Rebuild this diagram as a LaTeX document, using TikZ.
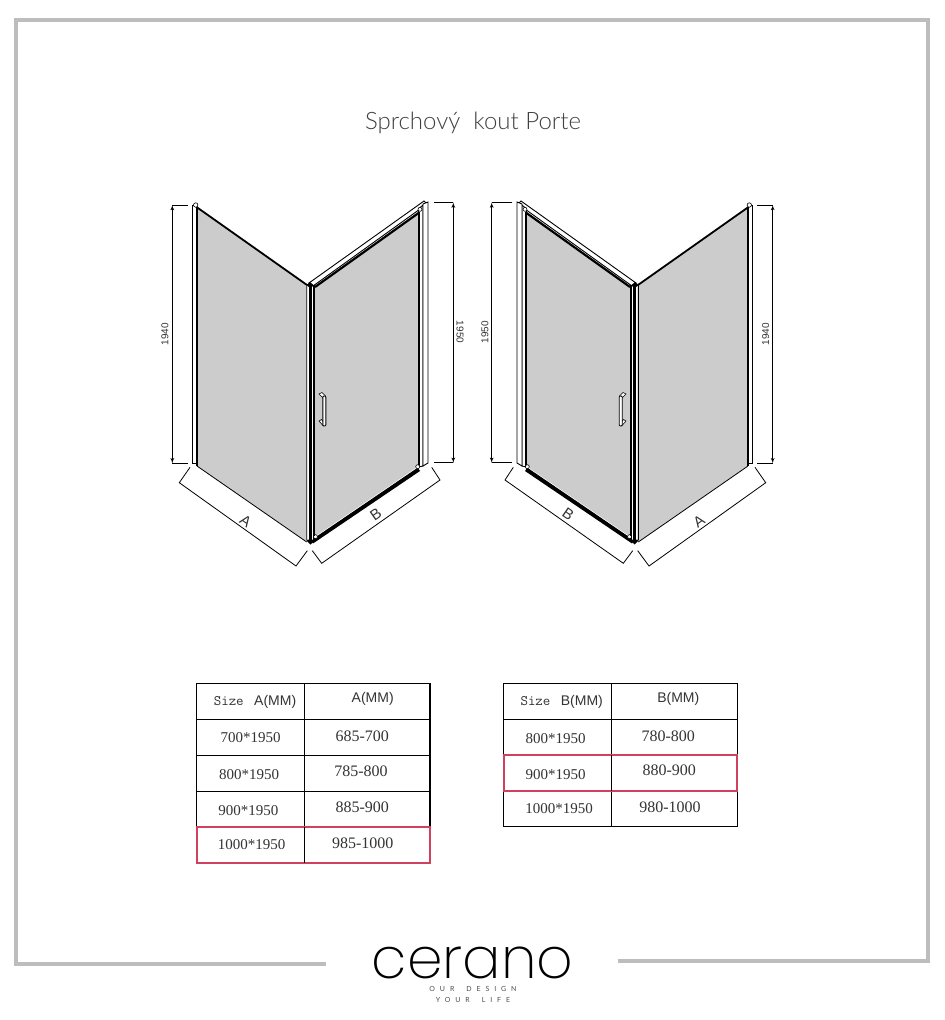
\documentclass[tikz,border=0pt]{standalone}
\usepackage{fontspec}
\usepackage{tikz}
\usetikzlibrary{arrows}
\setmainfont{Liberation Serif}
\setsansfont{Liberation Sans}
\newfontfamily\titlefont{Lato Light}
\newfontfamily\logofont{Poppins ExtraLight}
\newfontfamily\tagfont[LetterSpace=70,WordSpace=1.8]{Lato}
\definecolor{framegray}{HTML}{BDBDBD}
\definecolor{glassgray}{HTML}{CCCCCC}
\definecolor{markred}{HTML}{D2405F}
\definecolor{textgray}{HTML}{333333}
\tikzset{>=latex'}
\tikzset{
	cell/.style={draw=black,line width=1.1pt,anchor=north west,inner sep=0pt,outer sep=0pt,minimum height=35.8pt},
	redrow/.style={draw=markred,line width=1.8pt,anchor=north west,inner sep=0pt,outer sep=0pt,minimum height=35.8pt},
	num/.style={inner sep=0pt,text=textgray,font=\fontsize{15}{16}\selectfont},
	rng/.style={inner sep=0pt,text=textgray,font=\fontsize{16}{16}\selectfont},
	head/.style={inner sep=0pt,text=textgray,font=\sffamily\fontsize{14}{16}\selectfont},
	dimtext/.style={inner sep=0pt,text=textgray,font=\sffamily\fontsize{10}{12}\selectfont},
	sidetext/.style={inner sep=0pt,text=textgray,font=\sffamily\fontsize{15}{16}\selectfont},
	glass/.style={fill=glassgray,draw=none},
	bar/.style={fill=white,draw=black,line width=0.9pt},
	dimline/.style={draw=black,line width=0.8pt},
	pin/.style={fill=white,draw=black,line width=0.6pt},
}
\newcommand{\koutparts}{
	% fixed panel
	\fill[glass] (197,208)--(306.7,285)--(306.7,542)--(197,466)--cycle;
	\draw[bar] (192.7,205)--(196.7,205)--(196.7,463)--(192.7,463)--cycle;
	\draw[line width=2pt] (197.3,207)--(197.3,466);
	\draw[line width=1.8pt] (196.5,207)--(307,285);
	\draw[line width=0.8pt] (197,466)--(306.7,542);
	\draw[pin] (195.7,205) circle (2.2);
	% door
	\fill[glass] (315,286)--(418.3,212)--(418.3,467)--(315,537)--cycle;
	\draw[bar] (309,283)--(424,201)--(427,204)--(313,286)--cycle;
	\draw[line width=2.2pt] (315,287)--(418.5,213);
	\draw[bar] (418.5,209)--(423,205)--(423,466)--(418.5,467)--cycle;
	\draw[bar] (423,204)--(428,202)--(428,463)--(423,466)--cycle;
	\draw[line width=2.2pt] (419,212)--(419,466);
	\draw[line width=3.6pt] (312,542)--(419,469.5);
	\draw[white,line width=0.6pt] (314,537.8)--(418,467);
	\draw[line width=0.8pt] (314,538.8)--(418,468);
	\draw[pin] (420,209.3) circle (2);
	\draw[pin] (417.7,466.7) circle (2);
	\draw[pin] (315.5,536.7) circle (2);
	% post
	\draw[bar] (306.7,285)--(309.5,285)--(309.5,541)--(306.7,540)--cycle;
	\fill (309.3,283.5)--(311.7,283.5)--(311.7,543)--(309.3,543)--cycle;
	\draw[bar] (311.7,285)--(313.3,285)--(313.3,541)--(311.7,541)--cycle;
	\fill (313.3,285)--(315,285)--(315,536)--(313.3,536)--cycle;
	\fill (306.5,285)--(310,282)--(314,285.5)--(310,288)--cycle;
	\fill (307,541)--(310.5,538)--(314,541)--(310.5,544.5)--cycle;
	% handle
	\draw[pin] (319,394)--(322,392.5)--(325.5,396)--(323,398)--cycle;
	\draw[pin] (319,421)--(321.5,419.5)--(325,424)--(323,425.5)--cycle;
	\draw[pin,line width=0.9pt,rounded corners=1pt] (322.8,396)--(325.8,396)--(325.8,426)--(322.8,426)--cycle;
	% dimensions
	\coordinate (hAtop) at (172.3,205);
	\coordinate (hAbot) at (172.3,463.3);
	\coordinate (hAtopr) at (188,205);
	\coordinate (hAbotr) at (188,463.3);
	\coordinate (hBtop) at (453.3,202.5);
	\coordinate (hBbot) at (453.3,462.8);
	\coordinate (hBtopl) at (433.5,202.5);
	\coordinate (hBbotl) at (433.5,462.8);
	\draw[dimline,<->] (hAtop)--(hAbot);
	\draw[dimline] (hAtop)--(hAtopr);
	\draw[dimline] (hAbot)--(hAbotr);
	\draw[dimline,<->] (hBtop)--(hBbot);
	\draw[dimline] (hBtop)--(hBtopl);
	\draw[dimline] (hBbot)--(hBbotl);
	\coordinate (wAa) at (190,467.3);
	\coordinate (wAb) at (179.3,482.7);
	\coordinate (wAc) at (296,566);
	\coordinate (wAd) at (307.3,550.7);
	\coordinate (wBa) at (312.3,550.7);
	\coordinate (wBb) at (321.7,563.3);
	\coordinate (wBc) at (440,480);
	\coordinate (wBd) at (431.7,467.3);
	\draw[dimline] (wAa)--(wAb)--(wAc)--(wAd);
	\draw[dimline] (wBa)--(wBb)--(wBc)--(wBd);
}
\begin{document}
\begin{tikzpicture}[x=1pt,y=-1pt]
	\useasboundingbox (0,0) rectangle (945,1020);
	\draw[framegray,line width=4.5pt] (326,964)--(16,964)--(16,20)--(928,20)--(928,961)--(618,961);
	\node[inner sep=0pt,text=black!75,font=\titlefont\fontsize{24}{28}\selectfont] (title) at (473,122.5) {Sprchový\ \ kout Porte};
	% left one
	\koutparts
	\node[dimtext,rotate=90] (hleftA) at (165,334) {1940};
	\node[dimtext,rotate=-90] (hleftB) at (460,332) {1950};
	\node[sidetext,rotate=-35] (wleftA) at (245.7,521) {A};
	\node[sidetext,rotate=35] (wleftB) at (375.7,514) {B};
	% right one, mirrored
	\begin{scope}[shift={(945,0)},xscale=-1]
		\koutparts
	\end{scope}
	\node[dimtext,rotate=90] (hrightB) at (485,332) {1950};
	\node[dimtext,rotate=90] (hrightA) at (765.7,334) {1940};
	\node[sidetext,rotate=-35] (wrightB) at (568.3,514) {B};
	\node[sidetext,rotate=35] (wrightA) at (699,521) {A};
	% table A
	\foreach \row/\ytop in {1/683.7,2/719.5,3/755.3,4/791.1}{
		\node[cell,minimum width=107.6pt] (cellA\row) at (196.7,\ytop) {};
		\node[cell,minimum width=125.7pt] (rangeA\row) at (304.3,\ytop) {};
	}
	\node[redrow,minimum width=233.3pt] (rowA) at (196.7,826.9) {};
	\draw[line width=1.1pt] (rowA.north west -| rangeA4.west)--(rowA.south west -| rangeA4.west);
	\node[inner sep=0pt,text=textgray] (sizeA) at (255,701.7) {\ttfamily\fontsize{14.5}{16}\selectfont Size\hspace{3pt} {\sffamily\fontsize{14}{16}\selectfont A(MM)}};
	\node[head] (headA) at (372.7,699.3) {A(MM)};
	\node[num] (a700) at (250.7,737.7) {700*1950};
	\node[rng] (r700) at (362.3,736) {685-700};
	\node[num] (a800) at (249,775) {800*1950};
	\node[rng] (r800) at (361,771) {785-800};
	\node[num] (a900) at (248.3,811) {900*1950};
	\node[rng] (r900) at (362.3,807.7) {885-900};
	\node[num] (a1000) at (251.7,845) {1000*1950};
	\node[rng] (r1000) at (362.7,843.3) {985-1000};
	% table B
	\foreach \row/\ytop in {1/683.7,2/719.5,4/791.1}{
		\node[cell,minimum width=108pt] (cellB\row) at (503.7,\ytop) {};
		\node[cell,minimum width=125.6pt] (rangeB\row) at (611.7,\ytop) {};
	}
	\node[redrow,minimum width=233.6pt] (rowB) at (503.7,755.3) {};
	\draw[line width=1.1pt] (rowB.north west -| rangeB4.west)--(rowB.south west -| rangeB4.west);
	\node[inner sep=0pt,text=textgray] (sizeB) at (561.7,701.7) {\ttfamily\fontsize{14.5}{16}\selectfont Size\hspace{3pt} {\sffamily\fontsize{14}{16}\selectfont B(MM)}};
	\node[head] (headB) at (678.3,699.3) {B(MM)};
	\node[num] (b800) at (555.7,738.7) {800*1950};
	\node[rng] (s800) at (668.3,736) {780-800};
	\node[num] (b900) at (555.7,774.3) {900*1950};
	\node[rng] (s900) at (669.3,770.7) {880-900};
	\node[num] (b1000) at (559,808.7) {1000*1950};
	\node[rng] (s1000) at (670,807) {980-1000};
	% logo
	\node[inner sep=0pt,text=black,font=\logofont\fontsize{57}{57}\selectfont] (logo) at (472.5,963) {cerano};
	\node[inner sep=0pt,text=black!70,font=\tagfont\fontsize{7}{8}\selectfont] (tagone) at (473,989.3) {OUR DESIGN};
	\node[inner sep=0pt,text=black!70,font=\tagfont\fontsize{7}{8}\selectfont] (tagtwo) at (473,999.8) {YOUR LIFE};
\end{tikzpicture}
\end{document}
